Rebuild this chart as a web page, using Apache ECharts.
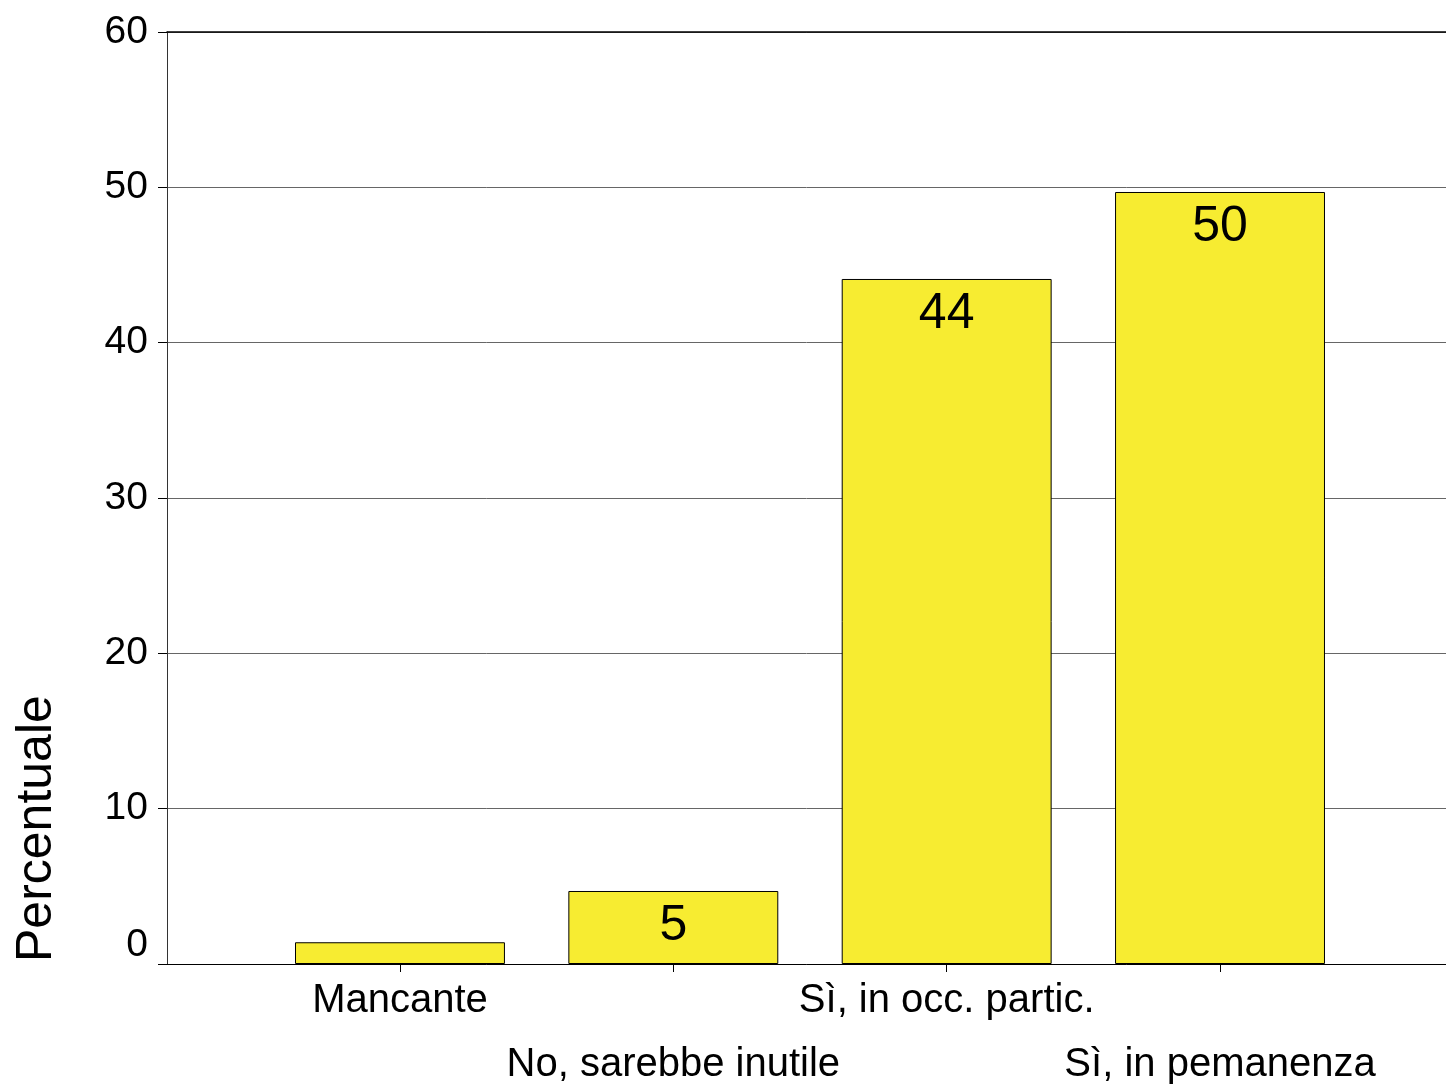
<!DOCTYPE html>
<html><head><meta charset="utf-8">
<script src="https://cdn.jsdelivr.net/npm/echarts@6/dist/echarts.min.js"></script>
<style>html,body{margin:0;padding:0;background:#fff}#c{width:1446px;height:1086px}</style>
</head><body><div id="c"></div>
<script>
var categories = ['Mancante', 'No, sarebbe inutile', 'Sì, in occ. partic.', 'Sì, in pemanenza'];
var values = [1.4, 4.7, 44.1, 49.7];
var shownLabels = ['', '5', '44', '50'];
var yTicks = [0, 10, 20, 30, 40, 50, 60];

var FONT = 'Liberation Sans, Arial, sans-serif';
var chart = echarts.init(document.getElementById('c'));
chart.setOption({
  animation: false,
  backgroundColor: '#fff',
  grid: [
    {left: 167, right: 0, top: 32, bottom: 122, outerBoundsMode: 'none', containLabel: false},
    {left: 263.3, right: 89.3, top: 32, bottom: 122, outerBoundsMode: 'none', containLabel: false}
  ],
  xAxis: [
    {type: 'value', gridIndex: 0, min: 0, max: 1, position: 'bottom',
     axisLine: {show: true, lineStyle: {color: '#000', width: 1}},
     axisTick: {show: false}, axisLabel: {show: false}, splitLine: {show: false}},
    {type: 'category', gridIndex: 1, data: categories, position: 'bottom',
     axisLine: {show: false},
     axisTick: {show: true, alignWithLabel: true, length: 8, lineStyle: {color: '#000'}},
     axisLabel: {color: '#000', fontSize: 40, fontFamily: FONT, margin: 5, lineHeight: 64, interval: 0,
       formatter: function (v, i) { return i % 2 === 1 ? '\n' + v : v; }},
     splitLine: {show: false}},
    {type: 'value', gridIndex: 0, min: 0, max: 1, position: 'top',
     axisLine: {show: true, lineStyle: {color: '#000', width: 1.5}},
     axisTick: {show: false}, axisLabel: {show: false}, splitLine: {show: false}}
  ],
  yAxis: [
    {type: 'value', gridIndex: 0, min: 0, max: 60, interval: 10,
     axisLine: {show: true, lineStyle: {color: '#333'}},
     axisTick: {show: true, length: 9, lineStyle: {color: '#000'}},
     axisLabel: {color: '#000', fontSize: 39, fontFamily: FONT, margin: 19,
       formatter: function (v) { return v === 0 ? '{z|0}' : String(v); },
       rich: {z: {fontSize: 39, fontFamily: FONT, color: '#000', padding: [0, 0, 38, 0]}}},
     splitLine: {show: true, lineStyle: {color: '#666', width: 1}}},
    {type: 'value', gridIndex: 1, min: 0, max: 60, interval: 10, show: false}
  ],
  graphic: [
    {type: 'text', x: 37, y: 962, rotation: Math.PI / 2,
     style: {text: 'Percentuale', fontSize: 50, fontFamily: FONT, fill: '#000',
             textAlign: 'left', textVerticalAlign: 'middle'}}
  ],
  series: [{
    type: 'bar', xAxisIndex: 1, yAxisIndex: 1,
    data: values.map(function (v, i) { return {value: v, label: {show: shownLabels[i] !== ''}}; }),
    barWidth: '76.8%',
    itemStyle: {color: '#F7EC31', borderColor: '#000', borderWidth: 1},
    label: {position: 'insideTop', distance: 10, fontSize: 50, fontFamily: FONT, color: '#000',
      formatter: function (p) { return shownLabels[p.dataIndex]; }}
  }]
});
</script></body></html>
